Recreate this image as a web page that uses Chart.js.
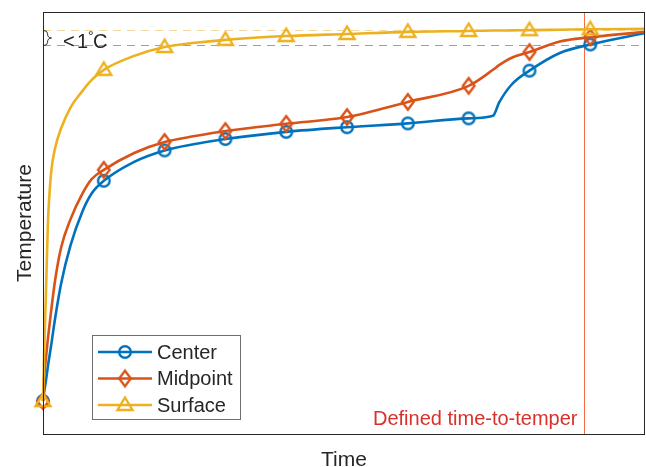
<!DOCTYPE html>
<html>
<head>
<meta charset="utf-8">
<script src="https://cdn.jsdelivr.net/npm/chart.js@4/dist/chart.umd.min.js"></script>
<style>
  html, body { margin: 0; padding: 0; background: #fff; }
  #wrap { width: 646px; height: 467px; }
</style>
</head>
<body>
<div id="wrap"><canvas id="c" width="646" height="467"></canvas></div>
<script>
// Time-to-temper curves, values (arbitrary units)
var TIMES = [0, 0.02, 0.05, 0.08, 0.13, 0.2, 0.3, 0.45, 0.65, 0.8, 1, 1.5, 2, 2.5, 3, 4, 5, 6, 7, 7.4, 7.5, 7.7, 8, 8.5, 9, 9.9];
var CENTER   = [7.8, 10.0, 12.8, 16.0, 20.6, 27.5, 35.8, 44.6, 52.8, 57.0, 60.0, 64.5, 67.2, 68.7, 69.9, 71.6, 72.7, 73.6, 74.8, 75.4, 78.5, 82.7, 86.1, 90.3, 92.3, 95.0];
var MIDPOINT = [7.8, 13.8, 18.2, 22.5, 28.7, 36.5, 44.3, 50.8, 57.0, 60.4, 62.6, 66.6, 69.2, 70.6, 71.8, 73.5, 75.1, 78.7, 82.5, 86.3, 87.4, 89.1, 90.5, 93.0, 94.0, 95.3];
var SURFACE  = [7.8, 19.9, 34.1, 49.5, 61.4, 67.8, 72.5, 77.3, 81.3, 83.9, 86.3, 89.6, 91.7, 92.7, 93.4, 94.3, 94.8, 95.3, 95.5, 95.6, 95.6, 95.65, 95.7, 95.8, 95.9, 96.0];
var MARKER_TIMES = [0, 1, 2, 3, 4, 5, 6, 7, 8, 9];

var TEMPER_TIME = 8.9;       // red vertical line
var SURFACE_REF = 95.85;     // upper dashed line
var CENTER_REF = 92.25;      // lower dashed line
var X_MAX = 9.9;
var Y_MAX = 100;

var BLUE = '#0072BD', ORANGE = '#D95319', YELLOW = '#EDB120';
var FONT = '"Liberation Sans", Arial, sans-serif';

function markerCanvas(kind, color) {
  var cv = document.createElement('canvas');
  cv.width = 22; cv.height = 22;
  var g = cv.getContext('2d');
  g.strokeStyle = color;
  g.lineWidth = 2.4;
  g.lineJoin = 'miter';
  g.beginPath();
  if (kind === 'circle') {
    g.arc(11, 11, 5.8, 0, Math.PI * 2);
  } else if (kind === 'diamond') {
    g.moveTo(11, 3.2); g.lineTo(16.8, 11); g.lineTo(11, 18.8); g.lineTo(5.2, 11); g.closePath();
  } else {
    g.moveTo(11, 3.5); g.lineTo(18.5, 16); g.lineTo(3.5, 16); g.closePath();
  }
  g.stroke();
  return cv;
}

var MK_CENTER = markerCanvas('circle', BLUE);
var MK_MID = markerCanvas('diamond', ORANGE);
var MK_SURF = markerCanvas('triangle', YELLOW);

function toPoints(vals) {
  return TIMES.map(function (t, i) { return { x: t, y: vals[i] }; });
}

function isMarker(ctx) {
  return ctx.raw && MARKER_TIMES.indexOf(ctx.raw.x) >= 0;
}

function series(label, vals, color, marker, order) {
  return {
    label: label,
    data: toPoints(vals),
    borderColor: color,
    borderWidth: 2.6,
    backgroundColor: 'transparent',
    cubicInterpolationMode: 'monotone',
    pointStyle: marker,
    pointRadius: function (ctx) { return isMarker(ctx) ? 6 : 0; },
    pointHoverRadius: 0,
    clip: false,
    order: order
  };
}

var decor = {
  id: 'decor',
  beforeDatasetsDraw: function (chart) {
    var c = chart.ctx, a = chart.chartArea;
    var xs = chart.scales.x, ys = chart.scales.y;
    c.save();
    // reference dashed lines
    c.lineWidth = 1;
    c.setLineDash([8, 6]);
    var yS = Math.round(ys.getPixelForValue(SURFACE_REF)) + 0.5;
    c.strokeStyle = '#f6d9a0';
    c.beginPath(); c.moveTo(a.left, yS); c.lineTo(a.right, yS); c.stroke();
    var yC = Math.round(ys.getPixelForValue(CENTER_REF)) + 0.5;
    c.strokeStyle = '#86a3d6';
    c.beginPath(); c.moveTo(a.left, yC); c.lineTo(a.right, yC); c.stroke();
    c.setLineDash([]);
    // time-to-temper line
    var xr = Math.round(xs.getPixelForValue(TEMPER_TIME)) + 0.5;
    c.strokeStyle = '#f26b45';
    c.beginPath(); c.moveTo(xr, a.top); c.lineTo(xr, a.bottom); c.stroke();
    c.fillStyle = '#d9302a';
    c.font = '20px ' + FONT;
    c.textAlign = 'right';
    c.textBaseline = 'alphabetic';
    c.fillText('Defined time-to-temper', xr - 7, a.bottom - 9);
    // brace + label
    c.strokeStyle = '#262626';
    c.lineWidth = 1;
    var x0 = a.left + 0.5, ym = (yS + yC) / 2;
    c.beginPath();
    c.moveTo(x0, yS);
    c.quadraticCurveTo(x0 + 4, yS, x0 + 4, yS + 3);
    c.quadraticCurveTo(x0 + 4, ym, x0 + 8, ym);
    c.quadraticCurveTo(x0 + 4, ym, x0 + 4, yC - 3);
    c.quadraticCurveTo(x0 + 4, yC, x0, yC);
    c.stroke();
    c.fillStyle = '#262626';
    c.textAlign = 'left';
    c.font = '20px ' + FONT;
    c.fillText('<', a.left + 20, yC + 2);
    c.fillText('1', a.left + 34, yC + 2);
    c.font = '14px ' + FONT;
    c.fillText('\u00B0', a.left + 45, yC - 5);
    c.font = '20px ' + FONT;
    c.fillText('C', a.left + 50, yC + 2);
    c.restore();
  },
  afterDraw: function (chart) {
    var c = chart.ctx, a = chart.chartArea;
    c.save();
    // axes box
    c.strokeStyle = '#262626';
    c.lineWidth = 1;
    c.strokeRect(a.left + 0.5, a.top + 0.5, a.right - a.left - 1, a.bottom - a.top);
    // axis titles
    c.fillStyle = '#262626';
    c.font = '21px ' + FONT;
    c.textAlign = 'center';
    c.textBaseline = 'alphabetic';
    c.fillText('Time', (a.left + a.right) / 2, 466);
    c.translate(31, (a.top + a.bottom) / 2);
    c.rotate(-Math.PI / 2);
    c.fillText('Temperature', 0, 0);
    c.restore();

    // legend
    c.save();
    var lx = 92, ly = 335, lw = 148, lh = 84;
    c.fillStyle = '#fff';
    c.fillRect(lx, ly, lw, lh);
    c.strokeStyle = '#6e6e6e';
    c.lineWidth = 1;
    c.strokeRect(lx + 0.5, ly + 0.5, lw, lh);
    var rows = [['Center', BLUE, MK_CENTER], ['Midpoint', ORANGE, MK_MID], ['Surface', YELLOW, MK_SURF]];
    c.font = '20px ' + FONT;
    c.textBaseline = 'middle';
    rows.forEach(function (r, i) {
      var y = ly + 17 + i * 26.5;
      c.strokeStyle = r[1];
      c.lineWidth = 2.6;
      c.beginPath(); c.moveTo(lx + 6, y); c.lineTo(lx + 60, y); c.stroke();
      c.drawImage(r[2], lx + 33 - 11, y - 11);
      c.fillStyle = '#262626';
      c.fillText(r[0], lx + 65, y + 1);
    });
    c.restore();
  }
};

new Chart(document.getElementById('c').getContext('2d'), {
  type: 'line',
  data: {
    datasets: [
      series('Center', CENTER, BLUE, MK_CENTER, 3),
      series('Midpoint', MIDPOINT, ORANGE, MK_MID, 2),
      series('Surface', SURFACE, YELLOW, MK_SURF, 1)
    ]
  },
  options: {
    responsive: false,
    animation: false,
    devicePixelRatio: 1,
    layout: { autoPadding: false, padding: { left: 43, top: 12, right: 1, bottom: 33 } },
    plugins: { legend: { display: false }, tooltip: { enabled: false } },
    scales: {
      x: { type: 'linear', min: 0, max: X_MAX, display: false },
      y: { type: 'linear', min: 0, max: Y_MAX, display: false }
    }
  },
  plugins: [decor]
});
</script>
</body>
</html>
